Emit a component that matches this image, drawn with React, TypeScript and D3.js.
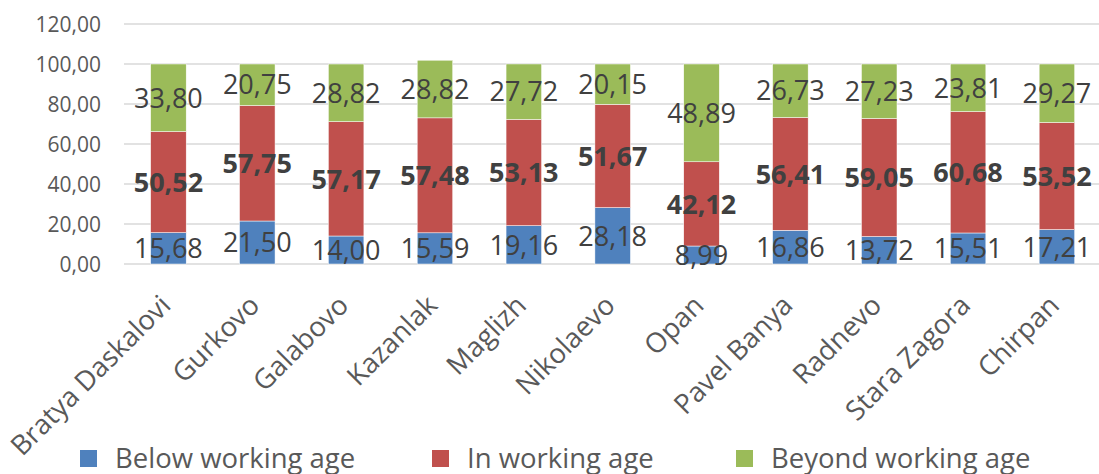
import React from "react";
import { scaleBand, scaleLinear, stack } from "d3";

const categories = [
  "Bratya Daskalovi",
  "Gurkovo",
  "Galabovo",
  "Kazanlak",
  "Maglizh",
  "Nikolaevo",
  "Opan",
  "Pavel Banya",
  "Radnevo",
  "Stara Zagora",
  "Chirpan",
];
const below = [15.68, 21.5, 14.0, 15.59, 19.16, 28.18, 8.99, 16.86, 13.72, 15.51, 17.21];
const working = [50.52, 57.75, 57.17, 57.48, 53.13, 51.67, 42.12, 56.41, 59.05, 60.68, 53.52];
const beyond = [33.8, 20.75, 28.82, 28.82, 27.72, 20.15, 48.89, 26.73, 27.23, 23.81, 29.27];
const seriesNames = ["Below working age", "In working age", "Beyond working age"];
const yTicks = [0, 20, 40, 60, 80, 100, 120];

const colors = ["#4F81BD", "#C0504D", "#9BBB59"];
const W = 1099;
const H = 474;
const font = "'Open Sans', sans-serif";

const fmt = (v: number) => v.toFixed(2).replace(".", ",");

export default function App() {
  const x = scaleBand<string>()
    .domain(categories)
    .range([124, 124 + 11 * 88.85])
    .paddingInner(0.6)
    .paddingOuter(0.3);
  const y = scaleLinear().domain([0, 120]).range([264, 24]);

  const rows = categories.map((c, i) => ({
    cat: c,
    s0: below[i],
    s1: working[i],
    s2: beyond[i],
  }));
  const layers = stack<any>().keys(["s0", "s1", "s2"])(rows);

  const legendX = [80, 432, 736];

  return (
    <svg
      width={W}
      height={H}
      style={{ position: "absolute", left: 0, top: 0, background: "#fff" }}
      fontFamily={font}
    >
      {/* gridlines + y labels */}
      {yTicks.map((t) => (
        <g key={t}>
          <line x1={124} x2={W} y1={y(t)} y2={y(t)} stroke="#d9d9d9" strokeWidth={1.5} />
          <text
            x={101}
            y={y(t)}
            dy="0.36em"
            textAnchor="end"
            fontSize={21}
            fill="#595959"
          >
            {fmt(t)}
          </text>
        </g>
      ))}

      {/* bars */}
      {layers.map((layer, li) => (
        <g key={li} fill={colors[li]}>
          {layer.map((d: any) => (
            <rect
              key={d.data.cat}
              x={x(d.data.cat)}
              width={x.bandwidth()}
              y={y(d[1])}
              height={y(d[0]) - y(d[1])}
              stroke="#fff"
              strokeWidth={0.5}
            />
          ))}
        </g>
      ))}

      {/* data labels */}
      {layers.map((layer, li) => (
        <g key={"l" + li}>
          {layer.map((d: any) => (
            <text
              key={d.data.cat}
              x={(x(d.data.cat) as number) + x.bandwidth() / 2}
              y={y((d[0] + d[1]) / 2)}
              dy="0.36em"
              textAnchor="middle"
              fontSize={27}
              fontWeight={li === 1 ? 700 : 400}
              fill="#404040"
            >
              {fmt(d[1] - d[0])}
            </text>
          ))}
        </g>
      ))}

      {/* category labels */}
      {categories.map((c) => {
        const cx = (x(c) as number) + x.bandwidth() / 2;
        return (
          <text
            key={c}
            transform={`translate(${cx + 4},${307}) rotate(-45)`}
            textAnchor="end"
            fontSize={27.5}
            fill="#595959"
          >
            {c}
          </text>
        );
      })}

      {/* legend */}
      {seriesNames.map((s, i) => (
        <g key={s}>
          <rect x={legendX[i]} y={450} width={17} height={17} fill={colors[i]} />
          <text x={legendX[i] + 35} y={468} fontSize={27.5} fill="#595959">
            {s}
          </text>
        </g>
      ))}
    </svg>
  );
}
